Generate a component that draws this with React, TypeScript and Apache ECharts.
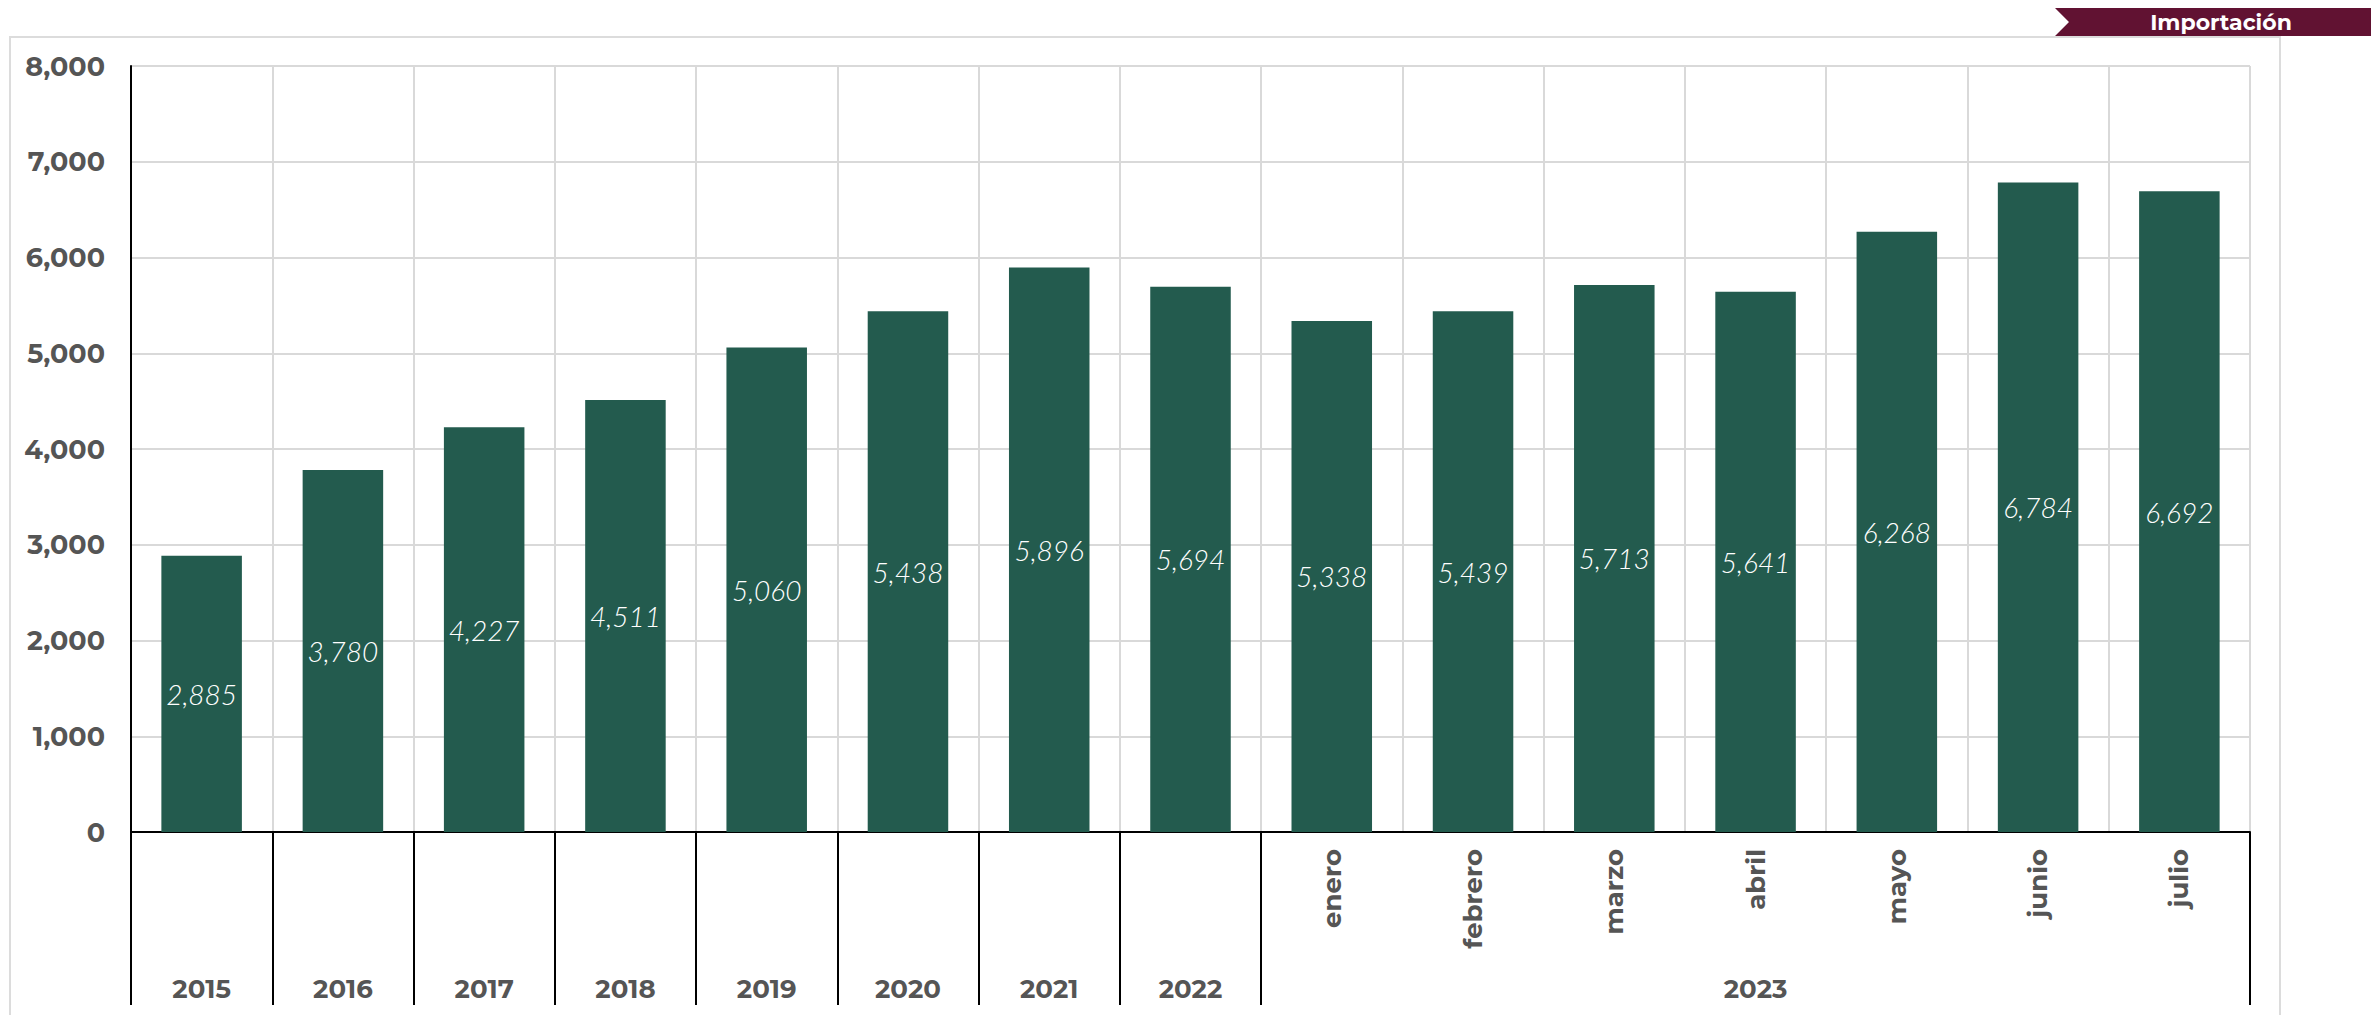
import React, { useEffect, useRef } from "react";
import * as echarts from "echarts";

const years = ["2015", "2016", "2017", "2018", "2019", "2020", "2021", "2022"];
const months2023 = ["enero", "febrero", "marzo", "abril", "mayo", "junio", "julio"];
const groupYear = "2023";
const values = [2885, 3780, 4227, 4511, 5060, 5438, 5896, 5694, 5338, 5439, 5713, 5641, 6268, 6784, 6692];
const yTicks = [0, 1000, 2000, 3000, 4000, 5000, 6000, 7000, 8000];
const bannerText = "Importación";

const categories = [...years, ...months2023.map((m) => m + " " + groupYear)];
const monthLabels = [...years.map(() => ""), ...months2023];
const groupMid = years.length + Math.floor(months2023.length / 2);
const groupLabels = categories.map((_, i) => (i < years.length ? years[i] : i === groupMid ? groupYear : ""));

const fmt = (v: number) => v.toLocaleString("en-US");
const FONT = "Montserrat, Inter, 'DejaVu Sans', sans-serif";

export default function App() {
  const ref = useRef<HTMLDivElement>(null);
  useEffect(() => {
    if (!ref.current) return;
    const chart = echarts.init(ref.current, null, { renderer: "svg" });
    chart.setOption({
      animation: false,
      backgroundColor: "#ffffff",
      grid: { left: 131, right: 121, top: 66, bottom: 183, containLabel: false },
      graphic: [
        {
          type: "rect",
          z: -10,
          silent: true,
          shape: { x: 10, y: 37, width: 2270, height: 1000 },
          style: { fill: "none", stroke: "#dcdcdc", lineWidth: 2 },
        },
        {
          type: "polygon",
          z: 10,
          shape: {
            points: [
              [2055, 8],
              [2371, 8],
              [2371, 36],
              [2055, 36],
              [2069, 22],
            ],
          },
          style: { fill: "#611232" },
        },
        {
          type: "text",
          z: 11,
          x: 2221,
          y: 22,
          style: {
            text: bannerText,
            fill: "#ffffff",
            font: `bold 22px ${FONT}`,
            align: "center",
            verticalAlign: "middle",
          },
        },
      ],
      xAxis: [
        {
          type: "category",
          data: categories,
          position: "bottom",
          axisLine: { show: true, lineStyle: { color: "#000000", width: 2 } },
          axisTick: { show: false },
          splitLine: { show: true, interval: 0, lineStyle: { color: "#d9d9d9", width: 2 } },
          axisLabel: {
            interval: 0,
            rotate: 90,
            margin: 17,
            color: "#555555",
            fontFamily: FONT,
            fontWeight: "bold",
            fontSize: 26,
            formatter: (_: string, i: number) => monthLabels[i],
          },
        },
        {
          type: "category",
          data: categories,
          position: "bottom",
          axisLine: { show: false },
          axisTick: {
            show: true,
            interval: (i: number) => i <= years.length,
            length: 173,
            lineStyle: { color: "#000000", width: 2 },
          },
          splitLine: { show: false },
          axisLabel: {
            interval: 0,
            margin: 144,
            color: "#555555",
            fontFamily: FONT,
            fontWeight: "bold",
            fontSize: 26,
            formatter: (_: string, i: number) => groupLabels[i],
          },
        },
      ],
      yAxis: {
        type: "value",
        min: yTicks[0],
        max: yTicks[yTicks.length - 1],
        interval: yTicks[1] - yTicks[0],
        axisLine: { show: true, lineStyle: { color: "#000000", width: 2 } },
        axisTick: { show: false },
        splitLine: { show: true, lineStyle: { color: "#d9d9d9", width: 2 } },
        axisLabel: {
          margin: 26,
          color: "#555555",
          fontFamily: FONT,
          fontWeight: "bold",
          fontSize: 27,
          formatter: (v: number) => fmt(v),
        },
      },
      series: [
        {
          type: "bar",
          xAxisIndex: 0,
          data: values,
          barWidth: "57%",
          itemStyle: { color: "#235B4E" },
          label: {
            show: true,
            position: "inside",
            color: "#ffffff",
            fontFamily: "Lato, 'Open Sans', sans-serif",
            fontStyle: "italic",
            fontWeight: 300,
            fontSize: 28,
            formatter: (p: any) => fmt(p.value),
          },
        },
      ],
    });
    return () => chart.dispose();
  }, []);
  return <div ref={ref} style={{ position: "fixed", left: 0, top: 0, width: 2371, height: 1015 }} />;
}
